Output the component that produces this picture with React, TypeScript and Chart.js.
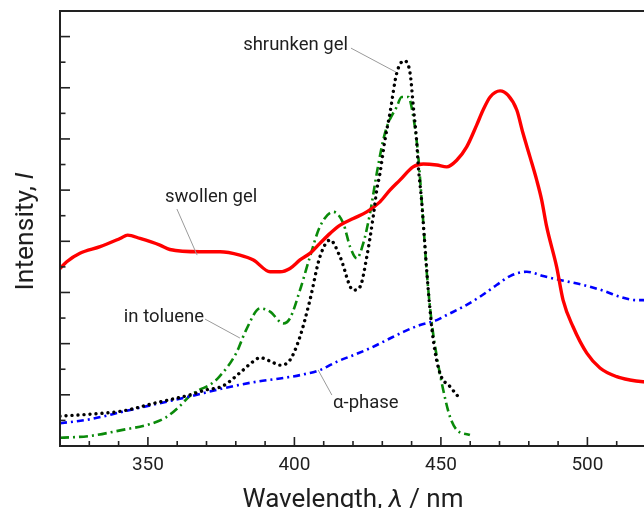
import React, { useEffect, useRef } from "react";
import { Chart, registerables } from "chart.js";

Chart.register(...registerables);

// ---- axis setup (values) ----
const wavelengthMin = 320;
const wavelengthMax = 520;
const intensityMin = 0;
const intensityMax = 17;
const xMajorTicks = [350, 400, 450, 500];
const xMinorStep = 10;
const yTickStep = 1;

// ---- series: [wavelength nm, intensity (a.u.)] ----
const swollenGel: [number, number][] = [
  [320, 6.94], [322.3, 7.2], [326.8, 7.53], [333.7, 7.79], [340.5, 8.11], [343.1, 8.24],
  [347.3, 8.11], [354.1, 7.85], [357.5, 7.68], [367.8, 7.59], [374.6, 7.59], [381.4, 7.46],
  [386.0, 7.27], [391.7, 6.81], [395.1, 6.81], [398.5, 6.94], [401.9, 7.27], [405.3, 7.53],
  [408.7, 7.92], [412.2, 8.31], [415.6, 8.63], [420.1, 8.89], [424.7, 9.15], [429.2, 9.54],
  [432.6, 10.0], [436.0, 10.39], [440.5, 10.91], [444.0, 11.02], [448.6, 10.98], [452.0, 10.91],
  [455.4, 11.17], [458.8, 11.69], [462.2, 12.54], [464.4, 13.13], [466.8, 13.64], [470.2, 13.88],
  [472.9, 13.71], [475.9, 13.13], [478.0, 12.23], [480.4, 11.3], [482.7, 10.39], [484.4, 9.61],
  [486.1, 8.57], [489.5, 7.0], [491.7, 5.7], [495.1, 4.66], [499.8, 3.63], [504.3, 3.05],
  [510.0, 2.71], [514.5, 2.58], [519.0, 2.51], [521.0, 2.5],
];

const shrunkenGel: [number, number][] = [
  [320, 1.17], [330, 1.24], [341.4, 1.37], [352.8, 1.69], [364.1, 1.99], [369.8, 2.19],
  [375.5, 2.34], [381.2, 2.84], [385.8, 3.29], [388.3, 3.45], [392.0, 3.3], [395.1, 3.16],
  [398.5, 3.36], [401.9, 4.27], [405.3, 5.7], [408.7, 7.39], [412.2, 8.05], [415.6, 7.39],
  [420.1, 6.09], [422.4, 6.22], [424.7, 7.39], [426.9, 8.96], [428.1, 10.0], [429.2, 10.65],
  [430.9, 11.95], [432.6, 13.0], [434.9, 14.56], [437.4, 15.05], [439.5, 14.56], [440.6, 13.25],
  [441.7, 11.95], [442.3, 10.91], [443.4, 9.61], [444.0, 8.7], [445.7, 6.09], [447.4, 4.14],
  [449.7, 2.84], [453.1, 2.32], [455.9, 1.93],
];

const inToluene: [number, number][] = [
  [320, 0.32], [330, 0.39], [341.4, 0.63], [350.5, 0.85], [356.2, 1.12], [360.7, 1.54],
  [364.1, 1.93], [367.5, 2.19], [371.0, 2.38], [374.4, 2.71], [380.1, 3.62], [383.5, 4.53],
  [388.3, 5.38], [391.7, 5.25], [396.2, 4.79], [398.5, 4.99], [401.9, 6.09], [405.3, 7.39],
  [408.7, 8.57], [413.3, 9.15], [416.7, 8.7], [419.0, 7.79], [421.3, 7.33], [423.5, 7.92],
  [425.8, 9.09], [428.1, 10.65], [430.3, 11.95], [432.0, 12.61], [434.9, 13.25], [436.6, 13.64],
  [438.9, 13.64], [440.6, 12.86], [441.7, 11.95], [442.3, 11.3], [443.1, 10.13], [444.0, 8.7],
  [445.2, 6.75], [446.9, 4.79], [448.6, 3.49], [450.8, 2.19], [453.1, 1.14], [455.4, 0.63],
  [459.9, 0.43],
];

const alphaPhase: [number, number][] = [
  [320, 0.89], [330, 1.04], [341.4, 1.34], [352.8, 1.64], [364.1, 1.93], [375.5, 2.25],
  [386.9, 2.51], [395.1, 2.64], [401.9, 2.77], [408.7, 2.97], [414.4, 3.29], [420.1, 3.55],
  [425.8, 3.82], [431.5, 4.14], [437.2, 4.46], [442.9, 4.73], [448.6, 4.92], [452.0, 5.12],
  [457.6, 5.44], [463.3, 5.83], [469.0, 6.29], [473.6, 6.64], [479.3, 6.81], [484.9, 6.64],
  [491.8, 6.46], [498.6, 6.29], [505.4, 6.07], [511.1, 5.83], [516.8, 5.7], [519.0, 5.7],
  [521.0, 5.68],
];

// ---- annotation labels: text, text anchor (nm, value), leader from / to (nm, value) ----
const labelTexts = ["shrunken gel", "swollen gel", "in toluene", "\u03b1-phase"];
const labelAnchors: [number, number][] = [[382.5, 15.66], [355.8, 9.73], [341.8, 5.04], [413.2, 1.68]];
const leaderStarts: [number, number][] = [[419.3, 15.55], [359.9, 9.26], [369.5, 4.96], [408.1, 2.97]];
const leaderEnds: [number, number][] = [[434.7, 14.61], [366.8, 7.46], [381.4, 4.22], [412.8, 1.99]];

const xTitleParts: [string, boolean][] = [["Wavelength, ", false], ["\u03bb", true], [" / nm", false]];
const yTitleParts: [string, boolean][] = [["Intensity, ", false], ["I", true]];

const toXY = (arr: [number, number][]) => arr.map(([x, y]) => ({ x, y }));

const FONT = "Roboto, 'Noto Sans', sans-serif";
const TEXT = "#1e1e1e";

function drawParts(ctx: CanvasRenderingContext2D, parts: [string, boolean][], size: number) {
  const widths = parts.map(([t, it]) => {
    ctx.font = `${it ? "italic " : ""}${size}px ${FONT}`;
    return ctx.measureText(t).width;
  });
  const total = widths.reduce((a, b) => a + b, 0);
  let x = -total / 2;
  parts.forEach(([t, it], i) => {
    ctx.font = `${it ? "italic " : ""}${size}px ${FONT}`;
    ctx.fillText(t, x, 0);
    x += widths[i];
  });
}

const decorPlugin = {
  id: "decor",
  afterDatasetsDraw(chart: any) {
    const { ctx, chartArea: a, scales } = chart;
    const xs = scales.x;
    const ys = scales.y;
    ctx.save();
    // leader lines
    ctx.strokeStyle = "#9a9a9a";
    ctx.lineWidth = 1;
    leaderStarts.forEach((s, i) => {
      const e = leaderEnds[i];
      ctx.beginPath();
      ctx.moveTo(xs.getPixelForValue(s[0]), ys.getPixelForValue(s[1]));
      ctx.lineTo(xs.getPixelForValue(e[0]), ys.getPixelForValue(e[1]));
      ctx.stroke();
    });
    // labels
    ctx.fillStyle = TEXT;
    ctx.font = `18.5px ${FONT}`;
    ctx.textBaseline = "middle";
    ctx.textAlign = "left";
    labelTexts.forEach((t, i) => {
      ctx.fillText(t, xs.getPixelForValue(labelAnchors[i][0]), ys.getPixelForValue(labelAnchors[i][1]));
    });

    // frame
    ctx.strokeStyle = "#222";
    ctx.lineWidth = 2;
    ctx.beginPath();
    ctx.rect(a.left, a.top, a.right - a.left, a.bottom - a.top);
    ctx.stroke();

    // inward ticks
    ctx.lineWidth = 1.6;
    for (let v = wavelengthMin + xMinorStep; v < wavelengthMax; v += xMinorStep) {
      const px = xs.getPixelForValue(v);
      const len = xMajorTicks.includes(v) ? 9 : 5;
      ctx.beginPath();
      ctx.moveTo(px, a.bottom);
      ctx.lineTo(px, a.bottom - len);
      ctx.stroke();
    }
    for (let v = intensityMin + yTickStep; v < intensityMax; v += yTickStep) {
      const py = ys.getPixelForValue(v);
      const len = v % 2 === 0 ? 10 : 5.5;
      ctx.beginPath();
      ctx.moveTo(a.left, py);
      ctx.lineTo(a.left + len, py);
      ctx.stroke();
    }

    // axis titles
    ctx.fillStyle = TEXT;
    ctx.textAlign = "left";
    ctx.textBaseline = "alphabetic";
    ctx.save();
    ctx.translate((a.left + a.right) / 2, a.bottom + 61);
    drawParts(ctx, xTitleParts, 26);
    ctx.restore();
    ctx.save();
    ctx.translate(a.left - 27, (a.top + a.bottom) / 2 + 3);
    ctx.rotate(-Math.PI / 2);
    drawParts(ctx, yTitleParts, 26.5);
    ctx.restore();
    ctx.restore();
  },
};

export default function App() {
  const canvasRef = useRef<HTMLCanvasElement | null>(null);

  useEffect(() => {
    const canvas = canvasRef.current;
    if (!canvas) return;
    const chart = new Chart(canvas, {
      type: "line",
      data: {
        datasets: [
          {
            label: "shrunken gel",
            data: toXY(shrunkenGel),
            borderColor: "#000000",
            borderWidth: 3.4,
            borderDash: [0.01, 6],
            borderCapStyle: "round",
            pointRadius: 0,
            cubicInterpolationMode: "monotone",
            order: 1,
          },
          {
            label: "swollen gel",
            data: toXY(swollenGel),
            borderColor: "#ff0000",
            borderWidth: 3.4,
            pointRadius: 0,
            cubicInterpolationMode: "monotone",
            order: 2,
          },
          {
            label: "\u03b1-phase",
            data: toXY(alphaPhase),
            borderColor: "#0000ff",
            borderWidth: 2.6,
            borderDash: [7, 4, 2, 4],
            pointRadius: 0,
            cubicInterpolationMode: "monotone",
            order: 3,
          },
          {
            label: "in toluene",
            data: toXY(inToluene),
            borderColor: "#0a8a0a",
            borderWidth: 2.6,
            borderDash: [9, 4, 2, 4],
            pointRadius: 0,
            cubicInterpolationMode: "monotone",
            order: 4,
          },
        ],
      },
      options: {
        responsive: false,
        animation: false,
        events: [],
        layout: { padding: { left: 60, top: 11, right: 14, bottom: 0 } },
        plugins: { legend: { display: false }, tooltip: { enabled: false } },
        scales: {
          x: {
            type: "linear",
            min: wavelengthMin,
            max: wavelengthMax,
            grid: { display: false, drawTicks: false },
            border: { display: false },
            afterBuildTicks: (scale: any) => {
              scale.ticks = xMajorTicks.map((v) => ({ value: v }));
            },
            afterFit: (scale: any) => {
              scale.height = 84;
            },
            ticks: {
              autoSkip: false,
              maxRotation: 0,
              padding: 8,
              color: TEXT,
              font: { family: FONT, size: 19 },
            },
          },
          y: {
            type: "linear",
            display: false,
            min: intensityMin,
            max: intensityMax,
          },
        },
      },
      plugins: [decorPlugin],
    });
    return () => chart.destroy();
  }, []);

  return (
    <div
      style={{
        position: "fixed",
        left: 0,
        top: 0,
        width: 644,
        height: 508,
        overflow: "hidden",
        background: "#fff",
      }}
    >
      <canvas ref={canvasRef} width={660} height={530} style={{ display: "block" }} />
    </div>
  );
}
